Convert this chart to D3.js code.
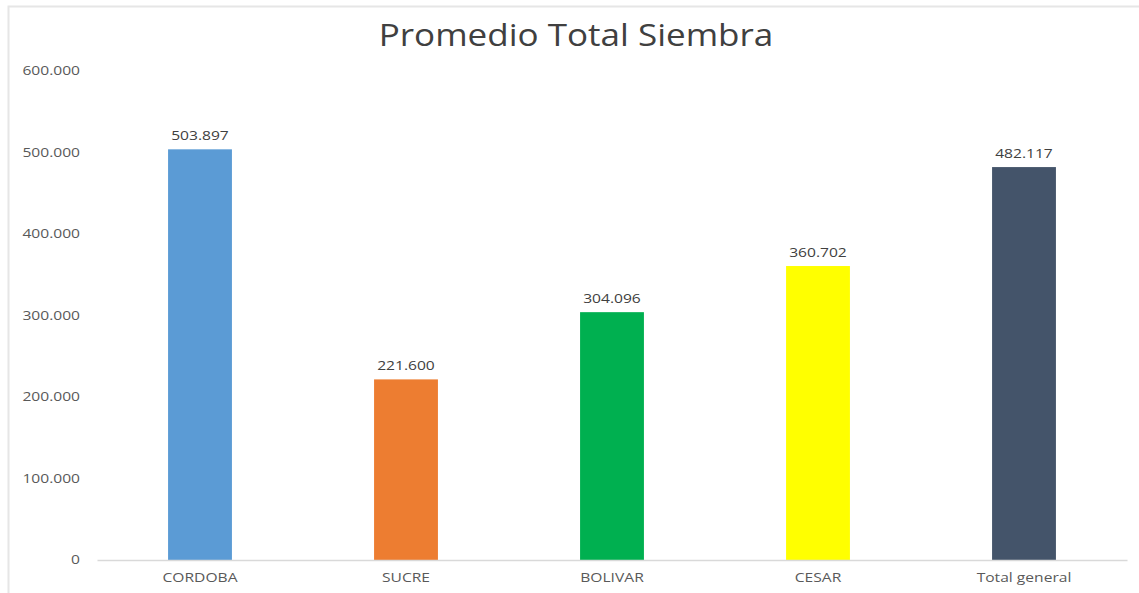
<!DOCTYPE html>
<html>
<head>
<meta charset="utf-8">
<script src="https://cdn.jsdelivr.net/npm/d3@7"></script>
<style>
    body { margin: 0; background: #fff; }
    svg { display: block; font-family: "Open Sans", "DejaVu Sans", sans-serif; }
</style>
</head>
<body>
<svg id="chart" width="1139" height="593"></svg>
<script>
    // chart data
    var categories = ["CORDOBA", "SUCRE", "BOLIVAR", "CESAR", "Total general"];
    var values = [503897, 221600, 304096, 360702, 482117];
    var barColors = ["#5b9bd5", "#ed7d31", "#00b050", "#ffff00", "#44546a"];
    var yTicks = [0, 100000, 200000, 300000, 400000, 500000, 600000];
    var title = "Promedio Total Siembra";

    (function () {
        var width = 1139, height = 593;
        var left = 97, right = 1127, top = 71, bottom = 560;

        var svg = d3.select("#chart");

        // the source picture is stretched sideways, so widen text a bit
        var widen = function (sel, k) {
            sel.each(function () {
                var len = this.getComputedTextLength();
                d3.select(this)
                    .attr("textLength", len * k)
                    .attr("lengthAdjust", "spacingAndGlyphs");
            });
        };

        // outer frame
        svg.append("rect")
            .attr("x", 8.5).attr("y", 6.5)
            .attr("width", width + 10).attr("height", height + 10)
            .attr("fill", "none")
            .attr("stroke", "#e6e6e6")
            .attr("stroke-width", 2);

        var x = d3.scaleBand()
            .domain(categories)
            .range([left, right])
            .paddingInner(0.69)
            .paddingOuter(0.345);

        var y = d3.scaleLinear()
            .domain([0, 600000])
            .range([bottom, top]);

        // number format like "500.000"
        var fmt = function (v) {
            return d3.format(",")(v).replace(/,/g, ".");
        };

        // title
        svg.append("text")
            .attr("x", 576).attr("y", 46)
            .attr("text-anchor", "middle")
            .attr("font-size", 31)
            .attr("fill", "#404040")
            .text(title)
            .call(widen, 1.13);

        // y axis labels (no line, no gridlines)
        var yAxis = d3.axisLeft(y)
            .tickValues(yTicks)
            .tickSize(0)
            .tickPadding(0)
            .tickFormat(fmt);

        var gy = svg.append("g")
            .attr("transform", "translate(80,0)")
            .call(yAxis);
        gy.select(".domain").remove();
        gy.selectAll("text")
            .attr("font-family", "'Open Sans', sans-serif")
            .attr("font-size", 12)
            .attr("fill", "#595959")
            .call(widen, 1.3);

        // bars
        svg.selectAll("rect.bar")
            .data(values)
            .enter().append("rect")
            .attr("class", "bar")
            .attr("x", function (d, i) { return x(categories[i]); })
            .attr("y", function (d) { return y(d); })
            .attr("width", x.bandwidth())
            .attr("height", function (d) { return bottom - y(d); })
            .attr("fill", function (d, i) { return barColors[i]; });

        // value labels
        svg.selectAll("text.val")
            .data(values)
            .enter().append("text")
            .attr("class", "val")
            .attr("x", function (d, i) { return x(categories[i]) + x.bandwidth() / 2; })
            .attr("y", function (d) { return y(d) - 9; })
            .attr("text-anchor", "middle")
            .attr("font-size", 12)
            .attr("fill", "#404040")
            .text(fmt)
            .call(widen, 1.3);

        // x axis baseline + labels
        var xAxis = d3.axisBottom(x).tickSize(0).tickPadding(13);
        var gx = svg.append("g")
            .attr("transform", "translate(0," + bottom + ")")
            .call(xAxis);
        gx.select(".domain")
            .attr("stroke", "#d9d9d9")
            .attr("stroke-width", 1.5);
        gx.selectAll("text")
            .attr("font-family", "'Open Sans', sans-serif")
            .attr("font-size", 12)
            .attr("fill", "#595959")
            .call(widen, 1.3);
    })();
</script>
</body>
</html>
